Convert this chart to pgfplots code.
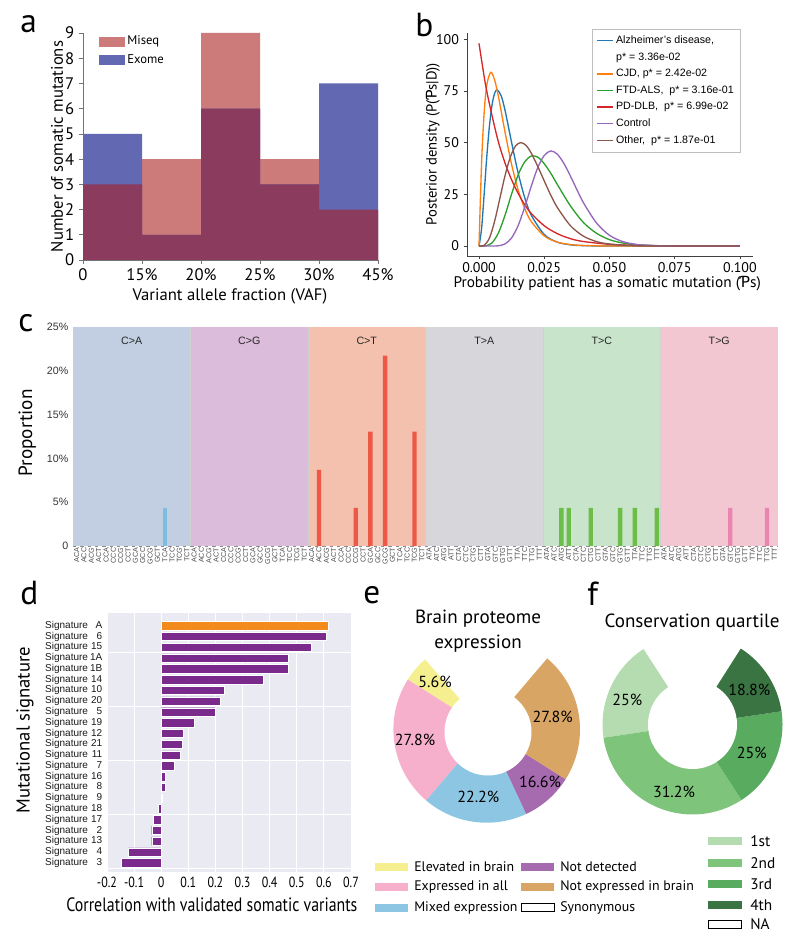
\documentclass[border=0pt]{standalone}
\usepackage{pgfplots}
\pgfplotsset{compat=1.18}
\usepackage{fontspec}
\setmainfont{PT Sans}
\newfontfamily\arial{Liberation Sans}
\newfontfamily\cond[FakeStretch=0.82]{PT Sans}
\newfontfamily\dejavu{DejaVu Sans}
\newcommand\fsz[1]{\fontsize{#1}{\dimexpr#1pt*6/5\relax}\selectfont}
% panel a
\definecolor{miseq}{HTML}{CD7A7A}
\definecolor{exome}{HTML}{6268B1}
\definecolor{overlap}{HTML}{8B3B5E}
% panel b
\definecolor{tabblue}{HTML}{1F77B4}
\definecolor{taborange}{HTML}{FF7F0E}
\definecolor{tabgreen}{HTML}{2CA02C}
\definecolor{tabred}{HTML}{D62728}
\definecolor{tabpurple}{HTML}{9467BD}
\definecolor{tabbrown}{HTML}{8C564B}
% panel c
\definecolor{bgCA}{HTML}{C2CFE2}
\definecolor{bgCG}{HTML}{DCBCDB}
\definecolor{bgCT}{HTML}{F4C1AF}
\definecolor{bgTA}{HTML}{D7D7DB}
\definecolor{bgTC}{HTML}{C8E5CB}
\definecolor{bgTG}{HTML}{F2C7D2}
\definecolor{barCA}{HTML}{7DBDE0}
\definecolor{barCT}{HTML}{EE5846}
\definecolor{barTC}{HTML}{6CBE48}
\definecolor{barTG}{HTML}{EA85B2}
% panel d
\definecolor{sbg}{HTML}{EAEAF2}
\definecolor{sigpurple}{HTML}{7A2A8A}
\definecolor{sigorange}{HTML}{F28A1E}
% panel e/f
\definecolor{eyellow}{HTML}{F5EF8F}
\definecolor{epink}{HTML}{F6B0CC}
\definecolor{eblue}{HTML}{8DC6E2}
\definecolor{epurple}{HTML}{A66AAE}
\definecolor{eorange}{HTML}{D9A564}
\definecolor{fone}{HTML}{B5DCB0}
\definecolor{ftwo}{HTML}{7EC57B}
\definecolor{fthree}{HTML}{58AB5F}
\definecolor{ffour}{HTML}{3B7443}
% wedge: color, cx, cy, start angle, end angle, radius (px; 1px = 0.75pt)
\newcommand\piewedge[6]{\fill[#1] (axis cs:#2,#3) -- ++(#4:{0.75*#6pt}) arc[start angle=#4, end angle=#5, radius={0.75*#6pt}] -- cycle;}
\begin{document}
\begin{tikzpicture}
\path[use as bounding box] (0pt,0pt) rectangle (600pt,-708pt);

% panel letters
\node[anchor=base west, inner sep=0pt, font=\fsz{25}] at (0.75*20pt,-0.75*33pt) {a};
\node[anchor=base west, inner sep=0pt, font=\fsz{25}] at (0.75*415pt,-0.75*37pt) {b};
\node[anchor=base west, inner sep=0pt, font=\fsz{25}] at (0.75*18pt,-0.75*332pt) {c};
\node[anchor=base west, inner sep=0pt, font=\fsz{25}] at (0.75*20pt,-0.75*604pt) {d};
\node[anchor=base west, inner sep=0pt, font=\fsz{25}] at (0.75*363pt,-0.75*603pt) {e};
\node[anchor=base west, inner sep=0pt, font=\fsz{25}] at (0.75*587pt,-0.75*605pt) {f};

% ---------------- panel a ----------------
\begin{axis}[
 at={(0.75*83pt,-0.75*260pt)}, anchor=south west,
 scale only axis, width=221.25pt, height=170.25pt,
 xmin=0, xmax=5, ymin=0, ymax=9,
 axis x line*=bottom, axis y line*=left,
 axis line style={draw=black!55, line width=0.5pt},
 tick align=outside, major tick length=3pt,
 tick style={black!55, line width=0.5pt},
 xtick={0,1,2,3,4,5}, xticklabels={0,15\%,20\%,25\%,30\%,45\%},
 ytick={0,1,2,3,4,5,6,7,8,9}, yticklabels={0,1,2,3,4,5,6,7,8,9},
 ticklabel style={font=\fsz{12.5}},
 xlabel={Variant allele fraction (VAF)}, ylabel={Number of somatic mutations},
 xlabel style={font=\fsz{12.5}, at={(axis description cs:0.498,-0.159)}, anchor=center},
 ylabel style={font=\fsz{12.5}, at={(axis description cs:-0.088,0.5)}, anchor=center},
 legend style={at={(axis description cs:0.054,1.0)}, anchor=north west, draw=none, fill=none,
   font=\fsz{9.5}, row sep=1.5pt, inner sep=0pt},
 legend cell align=left,
]
\addplot[ybar interval, fill=miseq, draw=none, forget plot] coordinates {(0,3)(1,4)(2,9)(3,4)(4,2)(5,2)};
\addplot[ybar interval, fill=exome, draw=none, forget plot] coordinates {(0,5)(1,1)(2,6)(3,3)(4,7)(5,7)};
\addplot[ybar interval, fill=overlap, draw=none, forget plot] coordinates {(0,3)(1,1)(2,6)(3,3)(4,2)(5,2)};
\addlegendimage{legend image code/.code={\fill[miseq] (0pt,-3.4pt) rectangle (18.75pt,3.4pt);}}
\addlegendentry{Miseq}
\addlegendimage{legend image code/.code={\fill[exome] (0pt,-3.4pt) rectangle (18.75pt,3.4pt);}}
\addlegendentry{Exome}
\end{axis}

% ---------------- panel b ----------------
\begin{axis}[
 at={(0.75*467pt,-0.75*256pt)}, anchor=south west,
 scale only axis, width=214.5pt, height=167.25pt,
 xmin=-0.0046, xmax=0.105, ymin=-4.8, ymax=103,
 axis x line*=bottom, axis y line*=left,
 axis line style={draw=black!75, line width=0.6pt},
 tick align=outside, major tick length=2.5pt, tick style={black!75, line width=0.6pt},
 xtick={0,0.025,0.05,0.075,0.1}, xticklabels={0.000,0.025,0.050,0.075,0.100},
 ytick={0,25,50,75,100}, yticklabels={0,25,50,75,100},
 ticklabel style={font=\fsz{10.5}},
 xticklabel style={yshift=1.5pt},
 xlabel={Probability patient has a somatic mutation ({\dejavu Ƥ}s)},
 ylabel={Posterior density (P({\dejavu Ƥ}s|D))},
 xlabel style={font=\fsz{11.5}, at={(axis description cs:0.49,-0.122)}, anchor=center},
 ylabel style={font=\fsz{11}, at={(axis description cs:-0.119,0.502)}, anchor=center},
 legend style={at={(axis description cs:0.437,1.018)}, anchor=north west, draw=black!25, fill=white,
   font=\arial\fsz{8}, row sep=1.3pt, inner xsep=3pt, inner ysep=3pt},
 legend cell align=left,
 legend image code/.code={\draw[#1, line width=0.9pt] (0pt,0pt) -- (12pt,0pt);},
 every axis plot/.append style={line width=1pt, smooth},
]
\addplot[tabblue] coordinates {(0,0)(0.001,8.6)(0.002,25.7)(0.003,43.5)(0.004,58.1)(0.005,68.3)(0.006,73.9)(0.007,75.5)(0.0085,72.6)(0.01,65.5)(0.0125,50.0)(0.015,35.3)(0.0175,23.5)(0.02,15.0)(0.025,5.6)(0.03,1.9)(0.035,0.6)(0.04,0.2)(0.05,0.02)(0.07,0)(0.1,0)};
\addlegendentry{Alzheimer’s disease,}
\addlegendimage{empty legend}
\addlegendentry{p* = 3.36e-02}
\addplot[taborange] coordinates {(0,0)(0.001,40.7)(0.002,65.0)(0.003,78.0)(0.0045,84.0)(0.006,80.2)(0.0075,71.9)(0.01,54.9)(0.0125,39.4)(0.015,27.1)(0.0175,18.2)(0.02,11.9)(0.025,4.9)(0.03,1.9)(0.035,0.74)(0.04,0.28)(0.05,0.04)(0.07,0)(0.1,0)};
\addlegendentry{CJD, p* = 2.42e-02}
\addplot[tabgreen] coordinates {(0,0)(0.0025,0.09)(0.005,1.56)(0.0075,6.5)(0.01,15.0)(0.0125,25.2)(0.015,34.4)(0.0175,40.7)(0.02,43.5)(0.0225,43.0)(0.025,39.8)(0.0275,35.2)(0.03,29.8)(0.035,19.5)(0.04,11.4)(0.045,6.2)(0.05,3.1)(0.055,1.5)(0.06,0.7)(0.07,0.13)(0.08,0.02)(0.1,0)};
\addlegendentry{FTD-ALS,\ \ p* = 3.16e-01}
\addplot[tabred] coordinates {(0,98)(0.0025,78)(0.005,63)(0.0075,50)(0.01,40)(0.0125,32)(0.015,25.5)(0.0175,20)(0.02,15.8)(0.025,9.8)(0.03,6.0)(0.035,3.6)(0.04,2.2)(0.05,0.85)(0.06,0.32)(0.08,0.05)(0.1,0)};
\addlegendentry{PD-DLB,\ \ p* = 6.99e-02}
\addplot[tabpurple] coordinates {(0,0)(0.005,0.01)(0.0075,0.15)(0.01,1.06)(0.0125,3.97)(0.015,9.9)(0.0175,18.8)(0.02,28.8)(0.0225,37.9)(0.025,43.8)(0.0275,46.0)(0.03,44.4)(0.0325,40.0)(0.035,33.9)(0.0375,27.3)(0.04,21.0)(0.045,11.2)(0.05,5.2)(0.055,2.2)(0.06,0.86)(0.065,0.31)(0.07,0.1)(0.08,0.01)(0.1,0)};
\addlegendentry{Control}
\addplot[tabbrown] coordinates {(0,0)(0.002,0.4)(0.004,3.9)(0.006,12.1)(0.008,23.1)(0.01,34.2)(0.012,43.0)(0.014,48.4)(0.016,50.0)(0.018,48.7)(0.02,45.0)(0.0225,38.5)(0.025,31.5)(0.0275,24.6)(0.03,18.7)(0.035,9.9)(0.04,4.8)(0.045,2.2)(0.05,1.0)(0.06,0.16)(0.07,0.02)(0.1,0)};
\addlegendentry{Other,\ \ p* = 1.87e-01}
\end{axis}

% ---------------- panel c ----------------
\begin{axis}[
 at={(0.75*73pt,-0.75*546pt)}, anchor=south west,
 scale only axis, width=528.75pt, height=164.25pt,
 xmin=-0.5, xmax=95.5, ymin=0, ymax=25,
 axis line style={draw=none}, major tick length=0pt,
 ytick={0,5,10,15,20,25}, yticklabels={0,5\%,10\%,15\%,20\%,25\%},
 yticklabel style={font=\arial\fsz{8}, text=black!80},
 xtick={0,...,95},
 xticklabels={ACA,ACC,ACG,ACT,CCA,CCC,CCG,CCT,GCA,GCC,GCG,GCT,TCA,TCC,TCG,TCT,
  ACA,ACC,ACG,ACT,CCA,CCC,CCG,CCT,GCA,GCC,GCG,GCT,TCA,TCC,TCG,TCT,
  ACA,ACC,ACG,ACT,CCA,CCC,CCG,CCT,GCA,GCC,GCG,GCT,TCA,TCC,TCG,TCT,
  ATA,ATC,ATG,ATT,CTA,CTC,CTG,CTT,GTA,GTC,GTG,GTT,TTA,TTC,TTG,TTT,
  ATA,ATC,ATG,ATT,CTA,CTC,CTG,CTT,GTA,GTC,GTG,GTT,TTA,TTC,TTG,TTT,
  ATA,ATC,ATG,ATT,CTA,CTC,CTG,CTT,GTA,GTC,GTG,GTT,TTA,TTC,TTG,TTT},
 xticklabel style={font=\arial\fsz{5.4}, text=black!70, rotate=90, anchor=east, inner sep=1pt},
 ylabel={Proportion},
 ylabel style={font=\fsz{14.4}, at={(axis description cs:-0.065,0.516)}, anchor=center},
 clip=false,
]
\fill[bgCA] (axis cs:-0.5,0) rectangle (axis cs:15.5,25);
\fill[bgCG] (axis cs:15.5,0) rectangle (axis cs:31.5,25);
\fill[bgCT] (axis cs:31.5,0) rectangle (axis cs:47.5,25);
\fill[bgTA] (axis cs:47.5,0) rectangle (axis cs:63.5,25);
\fill[bgTC] (axis cs:63.5,0) rectangle (axis cs:79.5,25);
\fill[bgTG] (axis cs:79.5,0) rectangle (axis cs:95.5,25);
\draw[black!18, line width=0.5pt] (axis cs:15.5,0) -- (axis cs:15.5,25);
\draw[black!18, line width=0.5pt] (axis cs:31.5,0) -- (axis cs:31.5,25);
\draw[black!18, line width=0.5pt] (axis cs:47.5,0) -- (axis cs:47.5,25);
\draw[black!18, line width=0.5pt] (axis cs:63.5,0) -- (axis cs:63.5,25);
\draw[black!18, line width=0.5pt] (axis cs:79.5,0) -- (axis cs:79.5,25);
\node[font=\arial\fsz{8}, text=black!85] at (axis cs:7.5,23.4) {C>A};
\node[font=\arial\fsz{8}, text=black!85] at (axis cs:23.5,23.4) {C>G};
\node[font=\arial\fsz{8}, text=black!85] at (axis cs:39.5,23.4) {C>T};
\node[font=\arial\fsz{8}, text=black!85] at (axis cs:55.5,23.4) {T>A};
\node[font=\arial\fsz{8}, text=black!85] at (axis cs:71.5,23.4) {T>C};
\node[font=\arial\fsz{8}, text=black!85] at (axis cs:87.5,23.4) {T>G};
\draw[black!45, line width=0.5pt, dash pattern=on 2.6pt off 2.9pt] (axis cs:-0.5,0) -- (axis cs:95.5,0);
\addplot[ybar, bar width=3.3pt, bar shift=0pt, fill=barCA, draw=none] coordinates {(12,4.348)};
\addplot[ybar, bar width=3.3pt, bar shift=0pt, fill=barCT, draw=none] coordinates {(33,8.696)(38,4.348)(40,13.043)(42,21.739)(46,13.043)};
\addplot[ybar, bar width=3.3pt, bar shift=0pt, fill=barTC, draw=none] coordinates {(66,4.348)(67,4.348)(70,4.348)(74,4.348)(76,4.348)(79,4.348)};
\addplot[ybar, bar width=3.3pt, bar shift=0pt, fill=barTG, draw=none] coordinates {(89,4.348)(94,4.348)};
\end{axis}

% ---------------- panel d ----------------
\begin{axis}[
 at={(0.75*107pt,-0.75*872pt)}, anchor=south west,
 scale only axis, width=183pt, height=194.25pt,
 xmin=-0.2, xmax=0.7, ymin=-0.86, ymax=23.18,
 axis background/.style={fill=sbg},
 axis line style={draw=none}, major tick length=0pt,
 xtick={-0.2,-0.1,0,0.1,0.2,0.3,0.4,0.5,0.6,0.7},
 xticklabels={-0.2,-0.1,0,0.1,0.2,0.3,0.4,0.5,0.6,0.7},
 xmajorgrids, grid style={white, line width=0.7pt},
 ytick={0,...,22},
 yticklabels={
  {Signature\ \makebox[1.15em][r]{3}},
  {Signature\ \makebox[1.15em][r]{4}},
  {Signature\ \makebox[1.15em][r]{13}},
  {Signature\ \makebox[1.15em][r]{2}},
  {Signature\ \makebox[1.15em][r]{17}},
  {Signature\ \makebox[1.15em][r]{18}},
  {Signature\ \makebox[1.15em][r]{9}},
  {Signature\ \makebox[1.15em][r]{8}},
  {Signature\ \makebox[1.15em][r]{16}},
  {Signature\ \makebox[1.15em][r]{7}},
  {Signature\ \makebox[1.15em][r]{11}},
  {Signature\ \makebox[1.15em][r]{21}},
  {Signature\ \makebox[1.15em][r]{12}},
  {Signature\ \makebox[1.15em][r]{19}},
  {Signature\ \makebox[1.15em][r]{5}},
  {Signature\ \makebox[1.15em][r]{20}},
  {Signature\ \makebox[1.15em][r]{10}},
  {Signature\ \makebox[1.15em][r]{14}},
  {Signature\ \makebox[1.15em][r]{1B}},
  {Signature\ \makebox[1.15em][r]{1A}},
  {Signature\ \makebox[1.15em][r]{15}},
  {Signature\ \makebox[1.15em][r]{6}},
  {Signature\ \makebox[1.15em][r]{A}}},
 extra y ticks={-0.5,4.5,9.5,14.5,19.5}, extra y tick labels={},
 extra y tick style={grid=major, major tick length=0pt},
 xticklabel style={font=\cond\fsz{11}},
 yticklabel style={font=\arial\fsz{7.5}, text=black!90},
 xlabel={Correlation with validated somatic variants},
 ylabel={Mutational signature},
 xlabel style={font=\cond\fsz{14.5}, at={(axis description cs:0.43,-0.127)}, anchor=center},
 ylabel style={font=\fsz{14}, at={(axis description cs:-0.336,0.548)}, anchor=center},
]
\addplot[xbar, bar width=6.3pt, bar shift=0pt, fill=sigpurple, draw=white, line width=0.3pt] coordinates {
 (-0.147,0)(-0.122,1)(-0.035,2)(-0.035,3)(-0.028,4)(-0.010,5)(0.002,6)(0.014,7)(0.015,8)(0.049,9)(0.069,10)
 (0.078,11)(0.082,12)(0.120,13)(0.200,14)(0.218,15)(0.231,16)(0.377,17)(0.469,18)(0.469,19)(0.554,20)(0.610,21)};
\addplot[xbar, bar width=6.3pt, bar shift=0pt, fill=sigorange, draw=white, line width=0.3pt] coordinates {(0.617,22)};
\end{axis}

% ---------------- panels e and f ----------------
\begin{axis}[
 at={(0.75*360pt,-0.75*944pt)}, anchor=south west,
 scale only axis, width=330pt, height=273pt,
 xmin=360, xmax=800, ymin=-944, ymax=-580,
 hide axis, clip=false,
]
% e: wedge sizes 1,5,4,2,5 (+5 synonymous) of 22 units, counter-clockwise from 131.4 deg
\piewedge{eyellow}{486.7}{-729.4}{131.4}{147.76}{93.3}
\piewedge{epink}{486.7}{-729.4}{147.76}{229.58}{93.3}
\piewedge{eblue}{486.7}{-729.4}{229.58}{295.04}{93.3}
\piewedge{epurple}{486.7}{-729.4}{295.04}{327.76}{93.3}
\piewedge{eorange}{486.7}{-729.4}{327.76}{409.58}{93.3}
\fill[white] (axis cs:488,-732) circle[radius={0.75*43.5pt}];
\node[font=\fsz{12}] at (axis cs:435,-681.7) {5.6\%};
\node[font=\fsz{12}] at (axis cs:415,-740) {27.8\%};
\node[font=\fsz{12}] at (axis cs:478.3,-796.7) {22.2\%};
\node[font=\fsz{12}] at (axis cs:540,-782.3) {16.6\%};
\node[font=\fsz{12}] at (axis cs:552.7,-716.7) {27.8\%};
\node[font=\fontsize{14.3}{18.8}\selectfont, align=center] at (axis cs:478,-631.5) {Brain proteome\\expression};
% f: wedge sizes 4,7,4,3 (+4 NA) of 22 units, counter-clockwise from 123 deg
\piewedge{fone}{692.5}{-724.5}{123}{188.45}{90}
\piewedge{ftwo}{692.5}{-724.5}{188.45}{303.0}{90}
\piewedge{fthree}{692.5}{-724.5}{303.0}{368.45}{90}
\piewedge{ffour}{692.5}{-724.5}{368.45}{417.55}{90}
\fill[white] (axis cs:692.5,-724.5) circle[radius={0.75*44.5pt}];
\node[font=\fsz{12}] at (axis cs:627.3,-700) {25\%};
\node[font=\fsz{12}] at (axis cs:749.3,-690) {18.8\%};
\node[font=\fsz{12}] at (axis cs:751.7,-752.7) {25\%};
\node[font=\fsz{12}] at (axis cs:674,-791.7) {31.2\%};
\node[font=\fsz{14.3}] at (axis cs:692,-623) {Conservation quartile};
% legend e
\fill[eyellow] (axis cs:375,-862.8) rectangle (axis cs:408,-870.6);
\fill[epink] (axis cs:375,-882.8) rectangle (axis cs:408,-890.6);
\fill[eblue] (axis cs:375,-903.8) rectangle (axis cs:408,-911.6);
\fill[epurple] (axis cs:521,-862.8) rectangle (axis cs:554,-870.6);
\fill[eorange] (axis cs:521,-882.8) rectangle (axis cs:554,-890.6);
\draw[black, line width=0.5pt, fill=white] (axis cs:521,-903.8) rectangle (axis cs:554,-911.6);
\node[anchor=west, font=\fsz{10.4}, inner sep=0pt] at (axis cs:414,-866.7) {Elevated in brain};
\node[anchor=west, font=\fsz{10.4}, inner sep=0pt] at (axis cs:414,-886.7) {Expressed in all};
\node[anchor=west, font=\fsz{10.4}, inner sep=0pt] at (axis cs:414,-907.7) {Mixed expression};
\node[anchor=west, font=\fsz{10.4}, inner sep=0pt] at (axis cs:560,-866.7) {Not detected};
\node[anchor=west, font=\fsz{10.4}, inner sep=0pt] at (axis cs:560,-886.7) {Not expressed in brain};
\node[anchor=west, font=\fsz{10.4}, inner sep=0pt] at (axis cs:560,-907.7) {Synonymous};
% legend f
\fill[fone] (axis cs:708,-836.9) rectangle (axis cs:741.7,-845.1);
\fill[ftwo] (axis cs:708,-858.6) rectangle (axis cs:741.7,-866.8);
\fill[fthree] (axis cs:708,-880.2) rectangle (axis cs:741.7,-888.4);
\fill[ffour] (axis cs:708,-900.9) rectangle (axis cs:741.7,-909.1);
\draw[black, line width=0.5pt, fill=white] (axis cs:708,-920.2) rectangle (axis cs:741.7,-928.4);
\node[anchor=west, font=\fsz{11.5}, inner sep=0pt] at (axis cs:750,-841) {1st};
\node[anchor=west, font=\fsz{11.5}, inner sep=0pt] at (axis cs:750,-862.7) {2nd};
\node[anchor=west, font=\fsz{11.5}, inner sep=0pt] at (axis cs:750,-884.3) {3rd};
\node[anchor=west, font=\fsz{11.5}, inner sep=0pt] at (axis cs:750,-905) {4th};
\node[anchor=west, font=\fsz{11.5}, inner sep=0pt] at (axis cs:750,-924.3) {NA};
\end{axis}
\end{tikzpicture}
\end{document}
